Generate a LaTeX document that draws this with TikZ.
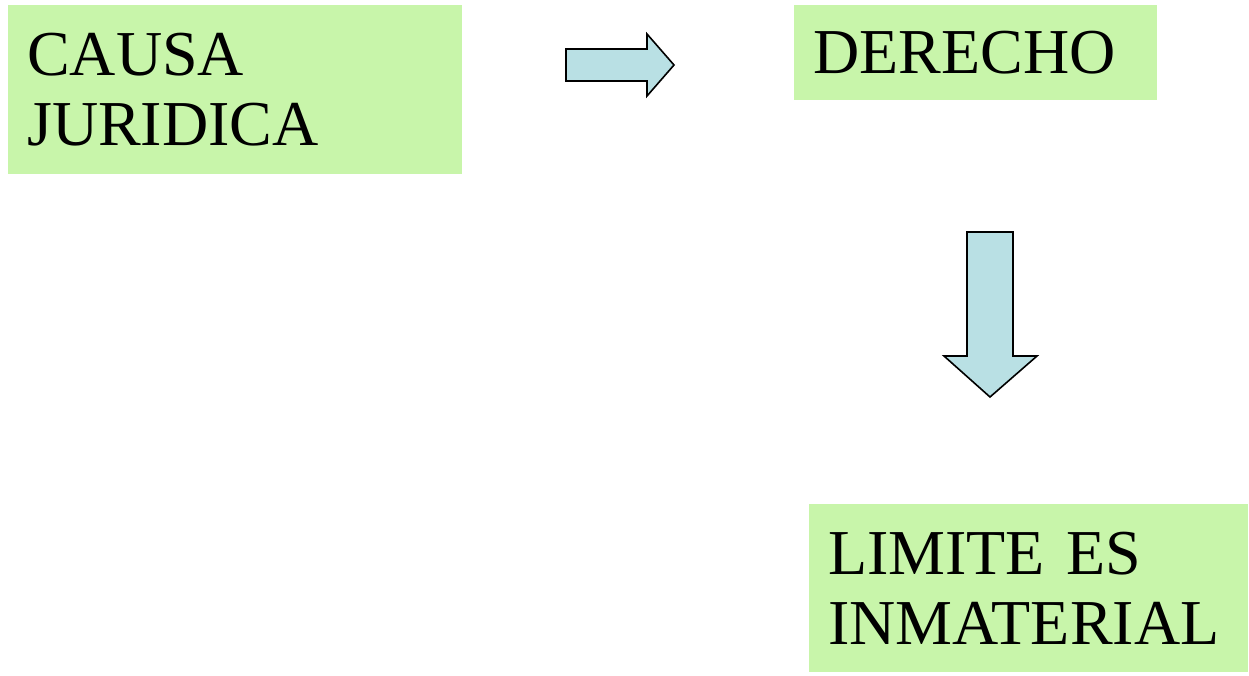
\documentclass[tikz,border=0pt]{standalone}
\usepackage{fontspec}
\setmainfont{Liberation Serif}
\definecolor{boxgreen}{RGB}{200,245,170}
\definecolor{arrowblue}{RGB}{185,224,228}
\tikzset{
  greenbox/.style={fill=boxgreen, draw=none, anchor=north west, align=left,
    inner xsep=19pt, inner ysep=0pt,
    font=\fontsize{64pt}{70pt}\selectfont},
  bluearrow/.style={fill=arrowblue, draw=black, line width=1.6pt, line join=miter}
}
\begin{document}
\begin{tikzpicture}[x=1pt, y=-1pt]
      \useasboundingbox (0,0) rectangle (1249,675);
      \node[greenbox, minimum width=454pt, minimum height=169pt, text width=416pt]
        (causa) at (8,5) {CAUSA\\JURIDICA};
      \node[greenbox, minimum width=363pt, minimum height=95pt, text width=325pt]
        (derecho) at (794,5) {DERECHO};
      \node[greenbox, minimum width=439pt, minimum height=168pt, text width=401pt]
        (limite) at (809,504) {LIMITE ES\\INMATERIAL};
      % block arrows
      \draw[bluearrow] (566,49) -- (647,49) -- (647,34) -- (674,65)
        -- (647,96) -- (647,81) -- (566,81) -- cycle;
      \draw[bluearrow] (967,232) -- (1013,232) -- (1013,356) -- (1037,356)
        -- (990,397) -- (944,356) -- (967,356) -- cycle;
    \end{tikzpicture}
\end{document}
